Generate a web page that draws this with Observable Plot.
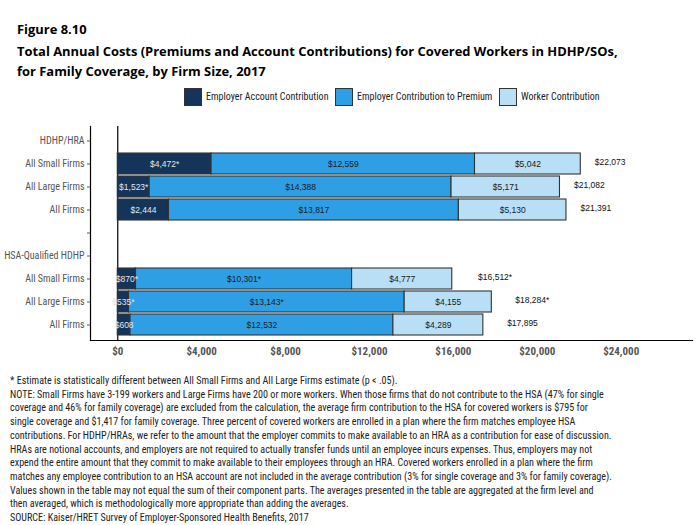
<!DOCTYPE html>
<html>
<head>
<meta charset="utf-8">
<script src="https://cdn.jsdelivr.net/npm/d3@7"></script>
<script src="https://cdn.jsdelivr.net/npm/@observablehq/plot@0.6"></script>
<style>
  body { margin: 0; width: 698px; height: 525px; position: relative; background: #fff; overflow: hidden; }
  .narrow { font-family: Roboto, "Liberation Sans", sans-serif; font-stretch: condensed; }
  #title { position: absolute; left: 17px; top: 19px; font-family: "Open Sans", sans-serif; font-weight: 700; color: #000; white-space: nowrap; }
  #title div { line-height: 20px; font-size: 14px; }
  #title .fig { margin-bottom: 2px; }
  #legend { position: absolute; top: 87px; left: 0; width: 698px; height: 19px; }
  .item { position: absolute; top: 0; height: 19px; display: flex; align-items: center; font-size: 10px; color: #222; white-space: nowrap; }
  .sw { width: 16px; height: 16px; border: 1px solid #333; margin-right: 4px; }
  #chart { position: absolute; left: 0; top: 110px; }
  #chart svg text { font-stretch: condensed; }
  #notes { position: absolute; left: 10px; top: 374px; font-size: 10px; line-height: 13.7px; color: #222; white-space: nowrap; }
</style>
</head>
<body>
<div id="title">
  <div class="fig">Figure 8.10</div>
  <div id="t2">Total Annual Costs (Premiums and Account Contributions) for Covered Workers in HDHP/SOs,</div>
  <div>for Family Coverage, by Firm Size, 2017</div>
</div>
<div id="legend" class="narrow"></div>
<div id="chart"></div>
<div id="notes" class="narrow">
* Estimate is statistically different between All Small Firms and All Large Firms estimate (p &lt; .05).<br>
NOTE: Small Firms have 3-199 workers and Large Firms have 200 or more workers. When those firms that do not contribute to the HSA (47% for single<br>
coverage and 46% for family coverage) are excluded from the calculation, the average firm contribution to the HSA for covered workers is $795 for<br>
single coverage and $1,417 for family coverage. Three percent of covered workers are enrolled in a plan where the firm matches employee HSA<br>
contributions. For HDHP/HRAs, we refer to the amount that the employer commits to make available to an HRA as a contribution for ease of discussion.<br>
HRAs are notional accounts, and employers are not required to actually transfer funds until an employee incurs expenses. Thus, employers may not<br>
expend the entire amount that they commit to make available to their employees through an HRA. Covered workers enrolled in a plan where the firm<br>
<span id="n8">matches any employee contribution to an HSA account are not included in the average contribution (3% for single coverage and 3% for family coverage).</span><br>
Values shown in the table may not equal the sum of their component parts. The averages presented in the table are aggregated at the firm level and<br>
then averaged, which is methodologically more appropriate than adding the averages.<br>
SOURCE: Kaiser/HRET Survey of Employer-Sponsored Health Benefits, 2017
</div>
<script>
// ---- data ----
const rowKeys = ["hra_head", "hra_small", "hra_large", "hra_all", "gap", "hsa_head", "hsa_small", "hsa_large", "hsa_all"];
const rowLabels = ["HDHP/HRA", "All Small Firms", "All Large Firms", "All Firms", "", "HSA-Qualified HDHP", "All Small Firms", "All Large Firms", "All Firms"];
const segments = ["Employer Account Contribution", "Employer Contribution to Premium", "Worker Contribution"];
const segmentColors = ["#143559", "#2f9fe5", "#b8dff6"];
const barRows = ["hra_small", "hra_large", "hra_all", "hsa_small", "hsa_large", "hsa_all"];
const accountValues = [4472, 1523, 2444, 870, 535, 608];
const accountLabels = ["$4,472*", "$1,523*", "$2,444", "$870*", "$535*", "$608"];
const premiumValues = [12559, 14388, 13817, 10301, 13143, 12532];
const premiumLabels = ["$12,559", "$14,388", "$13,817", "$10,301*", "$13,143*", "$12,532"];
const workerValues = [5042, 5171, 5130, 4777, 4155, 4289];
const workerLabels = ["$5,042", "$5,171", "$5,130", "$4,777", "$4,155", "$4,289"];
const totalValues = [22073, 21082, 21391, 16512, 18284, 17895];
const totalLabels = ["$22,073", "$21,082", "$21,391", "$16,512*", "$18,284*", "$17,895"];
const xTicks = [0, 4000, 8000, 12000, 16000, 20000, 24000];
const xTickLabels = ["$0", "$4,000", "$8,000", "$12,000", "$16,000", "$20,000", "$24,000"];

// ---- build tables ----
const segValues = [accountValues, premiumValues, workerValues];
const segLabels = [accountLabels, premiumLabels, workerLabels];
const stacked = [];
barRows.forEach((r, i) => {
  segments.forEach((s, j) => {
    stacked.push({row: r, seg: s, value: segValues[j][i], label: segLabels[j][i], si: j});
  });
});
const totals = barRows.map((r, i) => ({row: r, value: totalValues[i], label: totalLabels[i]}));
const labelOf = new Map(rowKeys.map((k, i) => [k, rowLabels[i]]));
const tickLabelOf = new Map(xTicks.map((t, i) => [t, xTickLabels[i]]));

// ---- legend ----
const legendX = [184, 335, 499];
const legend = document.getElementById("legend");
segments.forEach((s, i) => {
  const it = document.createElement("div");
  it.className = "item";
  it.style.left = legendX[i] + "px";
  it.innerHTML = `<div class="sw" style="background:${segmentColors[i]}"></div><span>${s}</span>`;
  legend.appendChild(it);
});

// ---- chart ----
const fontNarrow = 'Roboto, "Liberation Sans", sans-serif';
const plot = Plot.plot({
  width: 698,
  height: 260,
  marginLeft: 90,
  marginRight: 6,
  marginTop: 16,
  marginBottom: 30,
  style: {fontFamily: "Liberation Sans, Arial, sans-serif", background: "white"},
  x: {domain: [-1300, 27400]},
  y: {domain: rowKeys, padding: 0.08},
  color: {domain: segments, range: segmentColors},
  marks: [
    Plot.ruleX([0], {stroke: "#000", strokeWidth: 1.2}),
    Plot.barX(stacked, Plot.stackX({x: "value", y: "row", fill: "seg", stroke: "#333", strokeWidth: 1.1, order: null})),
    Plot.text(stacked, Plot.stackX({x: "value", y: "row", text: "label", order: null,
      fill: d => d.si === 0 ? "#e6e6e6" : "#1a1a1a", fontSize: 8.5})),
    Plot.text(totals, {x: "value", y: "row", text: "label", dx: 14, dy: -2, textAnchor: "start", fill: "#111", fontSize: 8.5}),
    Plot.frame({anchor: "left", stroke: "#000", strokeWidth: 1.2}),
    Plot.frame({anchor: "bottom", stroke: "#000", strokeWidth: 1.2}),
    Plot.axisY({tickSize: 3, tickPadding: 3, tickFormat: d => labelOf.get(d), label: null,
      fontSize: 10, fill: "#555", stroke: "#555", fontFamily: fontNarrow}),
    Plot.axisX({ticks: xTicks, tickSize: 0, tickPadding: 7, tickFormat: d => tickLabelOf.get(d), label: null,
      fontSize: 11, fontWeight: "bold", fill: "#555", fontFamily: fontNarrow})
  ]
});
document.getElementById("chart").appendChild(plot);
// bar labels stay regular width; axis labels condensed
plot.querySelectorAll("g[aria-label='text'] text").forEach(t => t.style.fontStretch = "normal");

// fit title width to reference (line 2 spans ~601px)
const t2 = document.getElementById("t2");
const fs = 14 * 601 / t2.getBoundingClientRect().width;
document.querySelectorAll("#title div").forEach(d => d.style.fontSize = fs.toFixed(2) + "px");
// fit footnote width (line 8 spans ~602px)
const n8 = document.getElementById("n8");
const nfs = 10 * 602 / n8.getBoundingClientRect().width;
document.getElementById("notes").style.fontSize = nfs.toFixed(2) + "px";
</script>
</body>
</html>
